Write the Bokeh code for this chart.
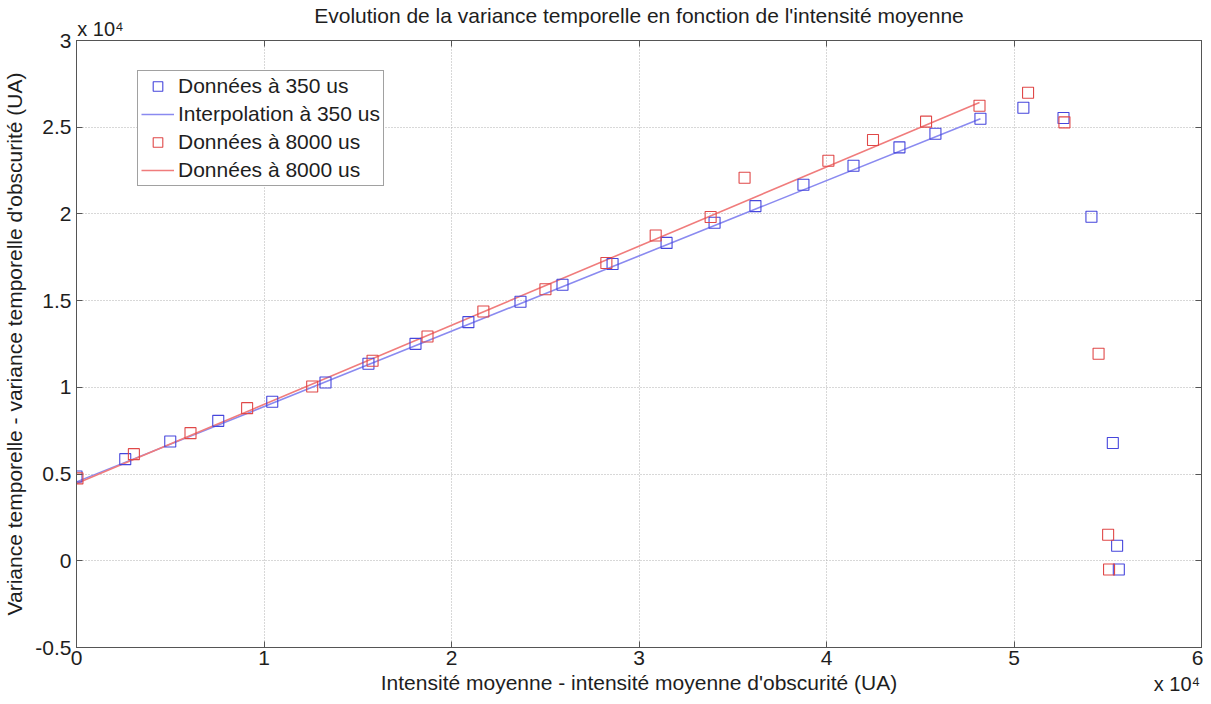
from bokeh.plotting import figure
from bokeh.models import (ColumnDataSource, FixedTicker, CustomJSTickFormatter, LinearAxis,
                          Range1d, Legend, LegendItem)
from bokeh.embed import file_html
from bokeh.resources import INLINE

# ---- data (values in UA) ----
x_350 = [0.0, 2600, 5000, 7560, 10440, 13280, 15570, 18080, 20900, 23680, 25920, 28590,
         31470, 34030, 36210, 38770, 41440, 43890, 45810, 48210, 50500, 52640, 54130,
         55270, 55500, 55590]
y_350 = [4860, 5860, 6880, 8070, 9170, 10280, 11360, 12510, 13760, 14940, 15920, 17110,
         18330, 19490, 20450, 21680, 22780, 23840, 24620, 25490, 26120, 25530, 19840,
         6790, 870, -500]
x_8000 = [50, 3060, 6080, 9100, 12570, 15790, 18720, 21700, 25010, 28260, 30890, 33820,
          35630, 40100, 42480, 45310, 48160, 50750, 52690, 54510, 55020, 55070]
y_8000 = [4750, 6150, 7360, 8800, 10050, 11530, 12930, 14370, 15660, 17170, 18760, 19820,
          22090, 23070, 24260, 25320, 26240, 26990, 25280, 11940, 1500, -500]

# linear interpolation (slope, intercept) and fitted range
fit_350 = (0.4343, 4550.0)
fit_8000 = (0.4564, 4450.0)
fit_range_350 = (0.0, 48210)
fit_range_8000 = (0.0, 48160)

x_ticks = [0, 10000, 20000, 30000, 40000, 50000, 60000]
y_ticks = [-5000, 0, 5000, 10000, 15000, 20000, 25000, 30000]

labels = ["Données à 350 us", "Interpolation à 350 us", "Données à 8000 us", "Données à 8000 us"]
title = "Evolution de la variance temporelle en fonction de l'intensité moyenne"
xlabel = "Intensité moyenne - intensité moyenne d'obscurité (UA)"
ylabel = "Variance temporelle - variance temporelle d'obscurité (UA)"
multiplier = "x 10⁴"
# where the two multiplier texts are centred along x (top-left and bottom-right)
mult_top_x = [1280]
mult_bottom_x = [58690]

FONT = "Liberation Sans"
FS = "21px"
TXT = "#1e1e1e"
AX = "#555555"
BLUE_M = "#4646dc"
BLUE_L = "#8a8af0"
RED_M = "#e04848"
RED_L = "#f07c7c"

p = figure(frame_width=1125, frame_height=607, output_backend="svg", toolbar_location=None,
           title=None,
           x_range=Range1d(0, 60000), y_range=Range1d(-5000, 30000),
           min_border_left=71, min_border_right=2, min_border_top=39, min_border_bottom=54,
           background_fill_color="white", border_fill_color="white")

fmt = CustomJSTickFormatter(code="return (Math.round(tick/1000)/10).toString();")
mult_fmt = CustomJSTickFormatter(code="return '%s';" % multiplier)

for ax in (p.xaxis[0], p.yaxis[0]):
    ax.major_label_text_font = FONT
    ax.major_label_text_font_size = FS
    ax.major_label_text_color = TXT
    ax.axis_label_text_font = FONT
    ax.axis_label_text_font_size = FS
    ax.axis_label_text_font_style = "normal"
    ax.axis_label_text_color = TXT
    ax.major_tick_in = 6
    ax.major_tick_out = 0
    ax.minor_tick_in = 0
    ax.minor_tick_out = 0
    ax.axis_line_color = AX
    ax.major_tick_line_color = AX
    ax.formatter = fmt

p.xaxis[0].ticker = FixedTicker(ticks=x_ticks)
p.yaxis[0].ticker = FixedTicker(ticks=y_ticks)
p.xaxis[0].axis_label = xlabel
p.yaxis[0].axis_label = ylabel
p.xaxis[0].major_label_standoff = 3
p.yaxis[0].major_label_standoff = 5
p.xaxis[0].axis_label_standoff = 3
p.yaxis[0].axis_label_standoff = 6

# tick-only axes on the right and top (box with inward ticks)
for loc, tk in (("right", y_ticks), ("above", x_ticks)):
    a = LinearAxis(ticker=FixedTicker(ticks=tk), major_label_text_font_size="1px",
                   major_label_text_color=None, axis_label_standoff=0,
                   major_label_standoff=0, major_tick_in=6, major_tick_out=0,
                   minor_tick_in=0, minor_tick_out=0, axis_line_color=AX,
                   major_tick_line_color=AX)
    p.add_layout(a, loc)

# top: multiplier (tick label) + title (axis label)
top_txt = LinearAxis(ticker=FixedTicker(ticks=mult_top_x), formatter=mult_fmt,
                     axis_line_color=None, major_tick_line_color=None,
                     minor_tick_line_color=None, major_tick_in=0, major_tick_out=0,
                     minor_tick_in=0, minor_tick_out=0,
                     major_label_text_font=FONT, major_label_text_font_size="20px",
                     major_label_text_color=TXT, major_label_standoff=1,
                     axis_label=title, axis_label_text_font=FONT,
                     axis_label_text_font_size=FS, axis_label_text_font_style="normal",
                     axis_label_text_color=TXT, axis_label_standoff=-12)
p.add_layout(top_txt, "above")

# bottom-right multiplier, on the same row as the x axis label
bot_txt = LinearAxis(ticker=FixedTicker(ticks=mult_bottom_x), formatter=mult_fmt,
                     axis_line_color=None, major_tick_line_color=None,
                     minor_tick_line_color=None, major_tick_in=0, major_tick_out=0,
                     minor_tick_in=0, minor_tick_out=0, axis_label_standoff=0,
                     major_label_text_font=FONT, major_label_text_font_size="20px",
                     major_label_text_color=TXT, major_label_standoff=-24)
p.add_layout(bot_txt, "below")

p.outline_line_color = AX
p.xgrid.ticker = FixedTicker(ticks=x_ticks)
p.ygrid.ticker = FixedTicker(ticks=y_ticks)
for g in (p.xgrid[0], p.ygrid[0]):
    g.grid_line_color = "#b0b0b0"
    g.grid_line_dash = "1 2"
    g.grid_line_width = 1

src350 = ColumnDataSource(dict(x=x_350, y=y_350))
src8000 = ColumnDataSource(dict(x=x_8000, y=y_8000))
fx350 = list(fit_range_350)
fy350 = [fit_350[0] * v + fit_350[1] for v in fx350]
fx8000 = list(fit_range_8000)
fy8000 = [fit_8000[0] * v + fit_8000[1] for v in fx8000]

r_l350 = p.line(fx350, fy350, line_color=BLUE_L, line_width=1.6)
r_l8000 = p.line(fx8000, fy8000, line_color=RED_L, line_width=1.6)
r_m350 = p.scatter("x", "y", source=src350, marker="square", size=11, fill_color=None,
                   line_color=BLUE_M, line_width=1.1)
r_m8000 = p.scatter("x", "y", source=src8000, marker="square", size=11, fill_color=None,
                    line_color=RED_M, line_width=1.1)

legend = Legend(items=[LegendItem(label=labels[0], renderers=[r_m350]),
                       LegendItem(label=labels[1], renderers=[r_l350]),
                       LegendItem(label=labels[2], renderers=[r_m8000]),
                       LegendItem(label=labels[3], renderers=[r_l8000])],
                location=(61, 461), label_text_font=FONT, label_text_font_size=FS,
                label_text_color=TXT, glyph_width=33, glyph_height=24,
                label_height=24, spacing=4, padding=3, margin=0, label_standoff=4,
                border_line_color="#444444", border_line_width=1, background_fill_alpha=1)
p.add_layout(legend, "center")

open("out.html", "w", encoding="utf-8").write(file_html(p, INLINE))
